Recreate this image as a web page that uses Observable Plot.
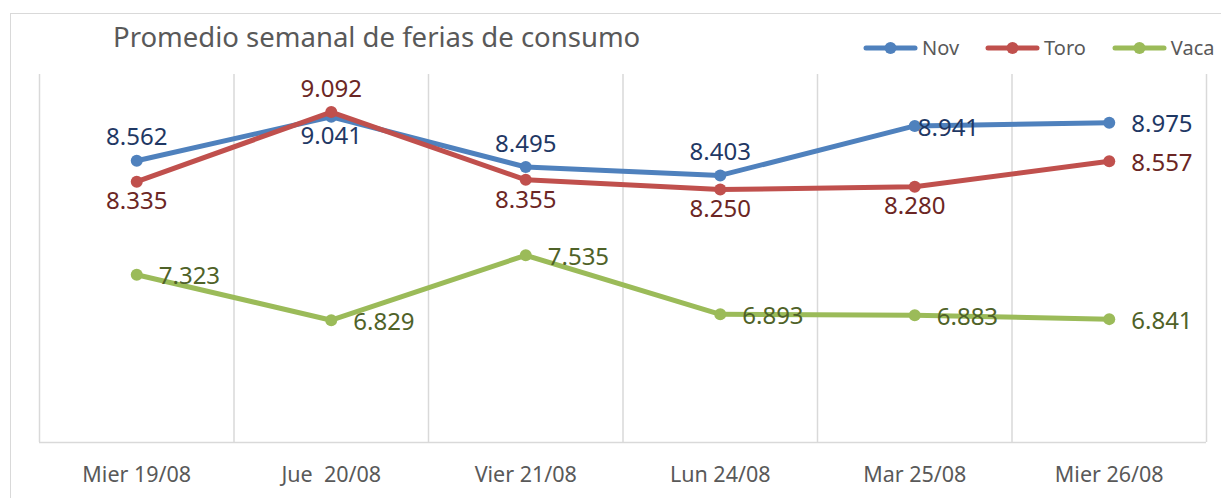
<!DOCTYPE html>
<html><head><meta charset="utf-8">
<script src="https://cdn.jsdelivr.net/npm/d3@7"></script>
<script src="https://cdn.jsdelivr.net/npm/@observablehq/plot@0.6"></script>
<style>
body{margin:0;background:#fff;font-family:"Noto Sans",sans-serif;}
#wrap{position:relative;width:1221px;height:498px;overflow:hidden;background:#fff;}
#frame{position:absolute;left:10px;top:13px;width:1240px;height:520px;border:1px solid #d9d9d9;box-sizing:border-box;}
#chart{position:absolute;left:0;top:0;}
#title{position:absolute;left:113px;top:18px;font-size:27.5px;color:#595959;white-space:nowrap;}
#legend{position:absolute;left:863px;top:34px;display:flex;align-items:center;font-size:20px;color:#595959;}
.item{display:flex;align-items:center;margin-right:26px;}
.item svg{margin-right:4px;}
svg text{white-space:pre;}
</style>
</head><body>
<div id="wrap">
  <div id="frame"></div>
  <div id="chart"></div>
  <div id="title">Promedio semanal de ferias de consumo</div>
  <div id="legend"></div>
</div>
<script>
const categories = ["Mier 19/08", "Jue  20/08", "Vier 21/08", "Lun 24/08", "Mar 25/08", "Mier 26/08"];
const seriesNames = ["Nov", "Toro", "Vaca"];
const novValues  = [8.562, 9.041, 8.495, 8.403, 8.941, 8.975];
const toroValues = [8.335, 9.092, 8.355, 8.250, 8.280, 8.557];
const vacaValues = [7.323, 6.829, 7.535, 6.893, 6.883, 6.841];

// styling (not data)
const lineColors  = {Nov: "#4F81BD", Toro: "#C0504D", Vaca: "#9BBB59"};
const labelColors = {Nov: "#1F3864", Toro: "#6B2624", Vaca: "#4F6228"};
const labelPlacement = {
  Nov:  ["top", "bottom", "top", "top", "rightNear", "right"],
  Toro: ["bottom", "top", "bottom", "bottom", "bottom", "right"],
  Vaca: ["right", "right", "right", "right", "right", "right"]
};
const placementOffsets = {
  top:       {dx: 0,  dy: -23, textAnchor: "middle"},
  bottom:    {dx: 0,  dy: 20,  textAnchor: "middle"},
  right:     {dx: 22, dy: 2,   textAnchor: "start"},
  rightNear: {dx: 3,  dy: 2,   textAnchor: "start"}
};

const valuesBySeries = {Nov: novValues, Toro: toroValues, Vaca: vacaValues};
const rows = [];
for (const s of seriesNames) {
  valuesBySeries[s].forEach((v, i) => rows.push({series: s, i, value: v, pos: labelPlacement[s][i]}));
}
const fmt = v => v.toFixed(3);

const marks = [
  Plot.ruleX(d3.range(-0.5, 6, 1), {stroke: "#d9d9d9", strokeWidth: 1.5}),
  Plot.ruleY([5.5], {stroke: "#d9d9d9", strokeWidth: 1.5}),
  Plot.axisX(d3.range(categories.length), {
    tickFormat: i => categories[i], tickSize: 0, tickPadding: 24,
    fontSize: 21.5, fill: "#595959", label: null
  })
];
for (const s of seriesNames) {
  const d = rows.filter(r => r.series === s);
  marks.push(Plot.line(d, {x: "i", y: "value", stroke: lineColors[s], strokeWidth: 5, strokeLinejoin: "round"}));
  marks.push(Plot.dot(d, {x: "i", y: "value", fill: lineColors[s], r: 6}));
}
for (const s of seriesNames) {
  for (const p of Object.keys(placementOffsets)) {
    const d = rows.filter(r => r.series === s && r.pos === p);
    if (!d.length) continue;
    const o = placementOffsets[p];
    marks.push(Plot.text(d, {
      x: "i", y: "value", text: r => fmt(r.value),
      dx: o.dx, dy: o.dy, textAnchor: o.textAnchor,
      fill: labelColors[s], fontSize: 24
    }));
  }
}

const chart = Plot.plot({
  width: 1221, height: 498,
  marginLeft: 39, marginRight: 15, marginTop: 74, marginBottom: 56,
  style: {fontFamily: "Noto Sans, sans-serif", background: "transparent", overflow: "visible"},
  x: {type: "linear", domain: [-0.5, categories.length - 0.5], axis: null},
  y: {domain: [5.5, 9.5], axis: null},
  marks
});
document.getElementById("chart").appendChild(chart);

const legend = document.getElementById("legend");
for (const s of seriesNames) {
  const item = document.createElement("div");
  item.className = "item";
  item.innerHTML = `<svg width="55" height="14"><line x1="3" y1="7" x2="52" y2="7" stroke="${lineColors[s]}" stroke-width="5" stroke-linecap="round"/><circle cx="27.5" cy="7" r="6" fill="${lineColors[s]}"/></svg><span>${s}</span>`;
  legend.appendChild(item);
}
</script>
</body></html>
